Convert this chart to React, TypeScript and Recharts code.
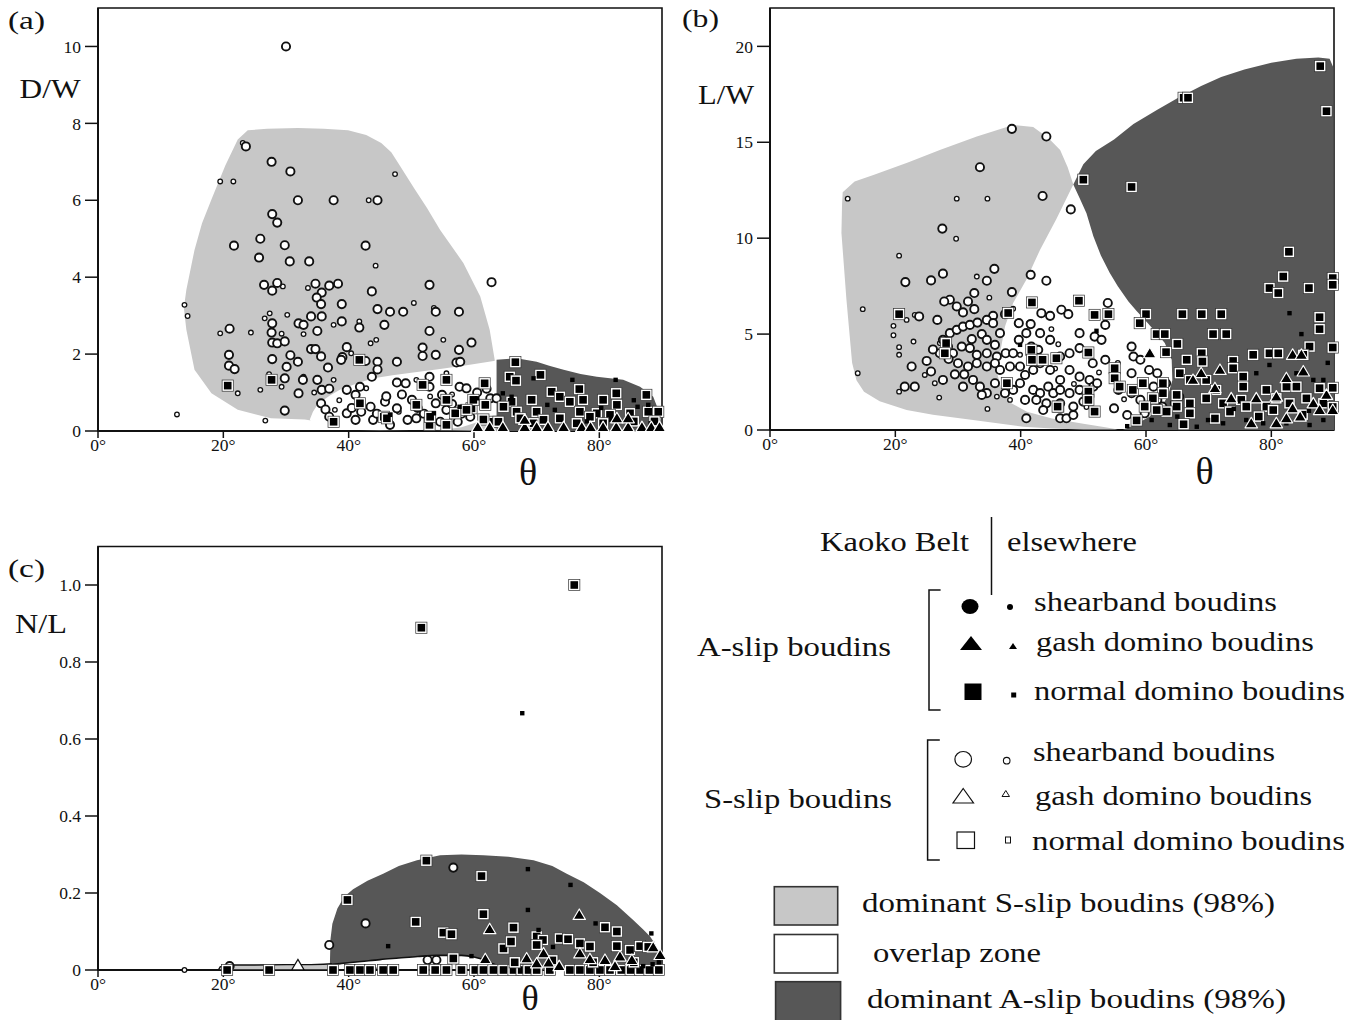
import React from 'react';
import { ScatterChart, Scatter, XAxis, YAxis, ReferenceArea } from 'recharts';

type P = [number, number];
const FONT = '"Liberation Serif", "Times New Roman", Times, serif';
const LIGHT = '#c7c7c7';
const DARK = '#575757';
const INK = '#111';

// ---------- tick labels ----------
const xTicks = [0, 20, 40, 60, 80];
const aYTicks = [0, 2, 4, 6, 8, 10];
const bYTicks = [0, 5, 10, 15, 20];
const cYTicks = [0, 0.2, 0.4, 0.6, 0.8, 1.0];

// ---------- panel (a) D/W vs theta ----------
const aShearKaoko: P[] = [[30,10],[23.6,7.4],[27.7,7.0],[30.7,6.75],[31.9,6.0],[37.6,6.0],[44.6,6.0],[27.8,5.64],[28.6,5.42],[21.7,4.82],[25.9,5.0],[29.8,4.83],[42.7,4.82],[25.7,4.51],[30.6,4.41],[33.7,4.41],[26.5,3.8],[27.8,3.65],[28.6,3.85],[34.7,3.83],[35.7,3.6],[36.9,3.78],[38.3,3.83],[34.9,3.47],[35.6,3.3],[43.7,3.63],[52.9,3.8],[62.8,3.87],[38.9,3.3],[44.6,3.17],[46.6,3.1],[48.7,3.1],[53.9,3.1],[57.6,3.1],[52.9,2.6],[59.6,2.3],[27.8,2.8],[21.0,2.66],[32.0,2.8],[32.8,2.76],[34.0,2.98],[35.7,2.98],[38.9,2.85],[35.0,2.6],[41.7,2.69],[45.7,2.76],[27.7,2.56],[27.8,2.3],[28.6,2.28],[29.8,2.33],[34.0,2.13],[34.7,2.13],[35.6,1.94],[39.7,2.18],[39.0,1.92],[38.8,1.85],[30.7,1.97],[27.8,1.87],[31.9,1.8],[20.9,1.98],[20.9,1.7],[21.8,1.61],[30.1,1.67],[29.8,1.37],[32.7,1.33],[36.7,1.65],[42.7,1.82],[43.7,1.41],[44.6,1.8],[44.6,1.6],[47.7,1.8],[51.8,2.17],[51.8,1.95],[53.9,1.98],[57.6,2.11],[57.2,1.78],[57.8,1.8],[32.0,0.98],[35.0,1.33],[35.7,1.07],[36.9,1.1],[35.6,0.72],[29.8,0.53],[36.3,0.56],[39.7,1.07],[41.1,0.94],[41.8,1.15],[43.5,0.63],[43.9,0.29],[39.7,0.46],[41.1,0.29],[45.8,0.76],[47.7,0.59],[47.7,1.26],[49.1,1.24],[50.1,0.81],[50.8,0.33],[52.9,1.41],[52.9,1.15],[53.9,0.72],[54.9,0.94],[55.6,0.55],[57.7,1.15],[58.8,1.11],[59.8,0.72],[59.4,0.37],[62.6,0.85],[63.6,0.85],[61.7,0.68],[49.4,0.29],[54.6,0.24],[57.4,0.24],[46.6,0.16],[36.9,0.37],[40.5,0.6],[42,0.5],[44.5,0.45],[46,0.9],[48.5,0.95],[51,0.6],[52,0.45],[56.5,0.7],[58,0.45],[60.5,1.0],[62,1.1]];
const aShearElse: P[] = [[19.5,6.49],[21.6,6.49],[23.1,7.49],[47.4,6.68],[43.2,6.0],[44.3,4.3],[13.8,3.28],[14.3,2.99],[19.5,2.54],[24.4,2.56],[26.6,2.93],[27.4,3.06],[29.5,3.76],[30.2,3.02],[29.3,2.53],[32.8,2.52],[33.5,3.72],[37.6,2.76],[41.7,2.85],[44.4,2.37],[50.4,3.33],[53.6,3.2],[55.1,2.37],[20.7,2.0],[25.9,1.07],[22.3,0.98],[27.3,1.48],[26.7,0.27],[12.6,0.43],[29.3,1.15],[32.8,1.41],[37.6,1.33],[40.4,2.02],[43.5,2.28],[37.8,0.55],[42.8,1.11],[50.8,1.33],[55.6,1.5],[34.5,1.0],[38.5,0.8],[45.5,0.3],[48,0.5],[53,0.9],[56.5,0.95]];
const aNormalKaoko: P[] = [[20.7,1.18],[27.7,1.33],[41.7,1.85],[37.6,0.24],[55.6,1.33],[61.7,1.24],[51.8,1.2],[45.6,0.37],[52.9,0.16],[59.6,0.59],[66.6,1.79],[65.7,1.41],[66.7,1.31],[70.6,1.46],[76.8,1.09],[82.7,0.98],[87.5,0.94],[69.2,0.81],[72.4,1.02],[73.7,0.89],[77.4,0.81],[80.6,0.81],[66.0,0.76],[75.3,0.76],[82.8,0.68],[66.8,0.5],[70.0,0.5],[73.7,0.33],[76.9,0.5],[79.6,0.46],[81.7,0.42],[84.9,0.46],[87.8,0.5],[89.4,0.5],[64.7,0.63],[63.1,0.24],[61.8,0.68],[59.9,0.81],[58.8,0.55],[71.1,0.29],[80.6,0.2],[55.6,0.81],[53.0,0.37],[50.8,0.68],[46.1,0.33],[41.8,0.72],[67.4,0.33],[69.5,0.2],[76.4,0.2],[85.5,0.25],[88.8,0.25],[61.5,0.3],[57,0.46],[55.6,0.16],[63.9,0.24],[78.5,0.37]];
const aNormalElse: P[] = [[69.5,1.37],[75.7,1.33],[82.6,1.33],[85.5,0.8],[64.6,0.98],[71.7,0.68],[80.3,0.6],[86.1,0.63],[46.6,0.42],[53.6,0.46],[60.5,0.85],[57.7,0.63],[72.9,0.55],[81.9,0.29],[88.2,0.2],[66,0.89],[74.3,0.16],[64.7,0.11],[87.8,0.68],[78,0.25],[68,0.1]];
const aGashKaoko: P[] = [[60.6,0.1],[62.5,0.1],[64.6,0.1],[68.1,0.1],[70,0.1],[71.8,0.1],[74.3,0.1],[77.2,0.1],[78.6,0.1],[80.6,0.1],[82.7,0.1],[84.6,0.1],[86.8,0.1],[88.3,0.1],[89.6,0.1],[68.1,0.29],[82.8,0.33],[84.6,0.33]];

const aRegionLight: P[] = [[23.9,7.82],[27,7.86],[31.9,7.88],[36,7.86],[39.9,7.82],[42.8,7.7],[45.2,7.49],[46.8,7.25],[47.9,6.97],[50.5,6.3],[52.5,5.8],[54.6,5.23],[58.3,4.37],[61.0,3.5],[62.5,2.63],[63.3,1.85],[63.6,0],[50,0.03],[40,0.12],[33,0.3],[27.6,0.33],[22.3,0.55],[18.1,0.98],[15.4,1.59],[14.1,2.63],[13.7,3.2],[14.1,3.67],[15.4,4.71],[16.6,5.4],[18.1,6.02],[20.3,6.9],[22.3,7.58]];
const aRegionOverlap: P[] = [[33.8,0.3],[34.3,0.5],[35.1,0.7],[37.0,0.92],[38.6,1.07],[41.5,1.25],[44,1.37],[47,1.45],[50.3,1.52],[54,1.6],[58.3,1.7],[63.4,1.83],[63.6,0.4],[62,0.32],[60,0.2],[58,0.1],[55,0.03],[45,0.02],[38,0.03],[34.5,0.1]];
const aRegionDark: P[] = [[63.6,1.85],[66.8,1.89],[70.0,1.8],[72,1.7],[74.3,1.59],[77,1.48],[79.6,1.41],[83.8,1.33],[86.5,1.15],[88.6,0.89],[89.4,0.55],[89.8,0.2],[90,0],[63.6,0]];

// ---------- panel (b) L/W vs theta ----------
const bShearKaoko: P[] = [[38.6,15.7],[44.1,15.3],[33.5,13.7],[43.5,12.2],[48.0,11.5],[27.5,10.5],[21.6,7.71],[25.7,7.8],[27.6,8.15],[35.8,8.4],[34.6,7.78],[38.6,7.19],[41.6,8.09],[44.1,7.78],[26.7,5.74],[23.8,5.92],[21.5,2.26],[22.6,3.31],[25.7,3.05],[27.6,2.61],[32.6,7.14],[31.6,6.7],[32.6,6.3],[28.7,6.79],[29.8,6.44],[27.8,6.7],[30.8,6.13],[35.6,5.95],[37.5,6.04],[39.7,5.57],[41.6,5.52],[43.3,6.09],[44.7,5.95],[46.5,6.27],[47.6,6.04],[43.1,5.05],[44.7,4.7],[27.6,4.7],[28.7,5.05],[29.8,5.22],[30.8,5.39],[31.9,5.48],[33.1,5.6],[34.6,5.74],[33.8,5.0],[35.6,5.57],[36.7,5.05],[35.9,4.44],[34.6,4.7],[32.2,4.74],[30.6,4.35],[28.4,4.35],[27.1,4.0],[29.2,4.0],[31.9,4.27],[33.0,3.92],[34.6,4.0],[36.2,3.83],[37.6,4.0],[38.8,4.0],[39.7,4.7],[40.9,5.05],[41.7,4.35],[42.8,4.18],[46.3,3.83],[47.8,4.0],[49.4,4.27],[30.0,3.48],[31.6,3.31],[33.0,3.48],[34.6,3.31],[35.9,3.48],[36.7,3.13],[38.3,3.31],[39.9,3.31],[40.7,2.87],[42.0,3.13],[43.1,3.48],[44.7,3.13],[46.3,2.61],[47.8,3.13],[49.4,2.78],[51.0,2.61],[51.6,2.26],[30.8,2.26],[32.4,2.61],[33.5,2.26],[34.6,1.92],[35.9,2.44],[37.5,1.92],[38.8,2.09],[39.9,2.44],[42.0,2.09],[43.1,1.92],[44.4,2.26],[45.2,1.92],[46.3,2.09],[47.8,1.92],[49.4,2.09],[50.5,1.92],[33.8,1.83],[40.7,1.57],[42.5,1.57],[44.1,1.39],[46.3,1.39],[48.4,1.22],[50.0,1.48],[40.9,0.61],[43.6,1.04],[46.3,0.61],[47.3,0.61],[48.4,0.78],[49.4,5.05],[51.8,4.87],[52.9,4.7],[53.9,6.62],[53.5,5.48],[51.5,3.48],[53.5,3.66],[57.7,4.35],[58.0,3.83],[59.1,3.66],[57.7,2.96],[60.5,3.13],[61.8,2.96],[54.9,2.78],[55.6,2.09],[57.7,1.92],[59.1,1.57],[61.8,1.57],[61.2,2.26],[63.2,2.44],[54.9,1.13],[57.0,0.78],[59.8,0.87],[62.6,1.22],[64.6,1.39],[65.3,1.74],[52.2,2.44],[23.1,2.26],[25,3.6],[26,4.2],[28.5,3.7],[29.5,2.9],[31,2.9]];
const bShearElse: P[] = [[12.4,12.06],[29.8,12.06],[34.7,12.06],[29.7,9.97],[20.6,9.09],[14.8,6.3],[14.0,2.96],[20.6,2.0],[27.0,1.69],[34.7,1.1],[19.7,5.43],[19.7,4.94],[20.6,4.32],[20.6,3.92],[22.9,4.61],[24.7,2.87],[26.3,2.44],[23.1,6.0],[21.8,5.74],[38.8,6.32],[39.9,3.92],[41.3,5.57],[46.0,4.47],[44.9,5.26],[36.2,1.74],[38.3,1.57],[27.1,4.53],[35,6.9],[33,8],[45.5,3.2],[48.5,2.4],[52.5,3.0],[50.5,1.2],[55.5,3.5],[56.5,1.6]];
const bNormalKaoko: P[] = [[50.0,13.05],[20.6,6.04],[41.8,6.65],[49.3,6.74],[51.8,6.0],[28.1,4.53],[41.7,4.18],[45.7,3.74],[50.8,4.04],[37.8,2.44],[50.8,2.0],[50.8,1.57],[46.0,1.22],[51.8,0.96],[87.8,18.97],[66.0,17.32],[66.7,17.32],[88.8,16.62],[57.7,12.67],[82.8,9.29],[81.9,8.0],[79.7,7.4],[81.1,7.14],[86.0,7.4],[89.8,7.92],[89.8,7.57],[60.0,6.04],[65.8,6.04],[68.9,6.04],[72.0,6.04],[70.7,5.0],[72.8,5.0],[87.7,5.88],[87.7,5.26],[54.0,6.04],[59.0,5.57],[61.7,5.0],[63.0,5.0],[65.0,4.49],[63.2,4.06],[66.5,3.66],[68.9,4.0],[69.0,3.57],[73.9,3.6],[73.9,3.22],[77.1,3.92],[79.7,4.0],[81.1,4.0],[86.1,4.35],[85.1,3.92],[65.4,2.96],[67.0,2.61],[69.6,2.61],[71.2,2.09],[75.5,2.78],[75.5,2.26],[79.2,2.09],[82.4,2.26],[84.0,2.26],[87.7,2.18],[62.7,2.44],[62.7,1.92],[64.9,1.83],[64.9,1.22],[63.3,0.96],[67.0,1.39],[67.0,0.87],[69.6,1.65],[72.3,1.39],[75.2,1.57],[76.0,1.22],[79.2,1.22],[80.8,1.65],[82.9,1.39],[85.6,1.65],[88.3,1.39],[80.3,1.04],[73.4,0.96],[55.0,3.22],[55.0,2.7],[55.8,2.26],[57.9,2.09],[59.5,2.44],[61.1,1.65],[59.8,1.22],[61.7,1.04],[41.8,3.66],[43.5,3.66],[45.9,1.22],[27.9,4.0],[38,6.1],[89.8,4.3],[89.8,2.2],[89.8,1.2],[58.5,0.5],[66,0.3],[85,0.8],[78,0.7],[71,0.6]];
const bNormalElse: P[] = [[82.9,6.09],[84.8,5.0],[79.7,3.39],[60.9,0.52],[63.8,0.26],[68.1,0.17],[69.9,0.52],[72.3,0.35],[76.0,0.52],[78.7,0.35],[82.4,0.35],[86.1,0.26],[88.3,0.52],[86.7,2.61],[88.3,2.61],[84.0,2.96],[77.6,2.96],[39.9,4.44],[43.3,3.74],[52.1,5.17],[86,1.0],[74,1.1],[65,0.7],[57,0.2],[89,3.5]];
const bGashKaoko: P[] = [[60.6,4.0],[68.8,2.96],[71.8,3.13],[67.5,2.61],[71.0,2.18],[73.6,1.65],[77.6,1.65],[80.8,1.74],[83.4,3.92],[84.8,3.92],[85.1,3.05],[82.4,2.7],[83.4,1.13],[84.6,0.7],[76.8,0.35],[80.8,0.35],[82.4,0.61],[86.7,1.39],[87.7,1.04],[88.8,1.83],[89.8,1.04]];

const bRegionLight: P[] = [[11.6,12.4],[13.5,12.95],[16.5,13.3],[22,13.95],[27.1,14.6],[33,15.3],[38.8,15.9],[42.0,15.8],[44.5,15.2],[46.3,14.6],[47.5,13.7],[48.4,12.8],[45.7,11.0],[43.1,9.4],[40.9,7.83],[38.8,6.62],[37.5,5.39],[36.7,4.0],[36.3,2.9],[37.0,2.0],[38.5,1.4],[41,0.95],[45,0.6],[50,0.33],[53.5,0.14],[55.5,0.02],[50,0.02],[45,0.08],[40.4,0.17],[32.4,0.52],[26,0.8],[21.8,1.04],[17.5,1.5],[15,2.0],[13.8,2.6],[13.1,3.5],[12.2,6.79],[11.4,10.27],[11.5,11.8]];
const bRegionDark: P[] = [[48.4,12.8],[50,13.85],[52,14.55],[54.9,15.14],[58,15.95],[61.8,16.7],[65,17.3],[68.8,17.93],[72,18.4],[75.7,18.8],[80,19.15],[84,19.35],[87.5,19.42],[89.3,19.35],[89.9,18.9],[90,0],[56.3,0],[58.4,0.3],[60.6,0.7],[62.5,1.2],[63.5,1.8],[64.2,2.6],[64.1,3.66],[63.0,4.53],[61.7,5.05],[60.3,5.57],[58.5,6.2],[57.2,6.7],[55.5,7.5],[54.2,8.2],[52.8,9.1],[51.6,10.1],[50.5,11.3],[49.4,12.1]];

// ---------- panel (c) N/L vs theta ----------
const cNormalKaoko: P[] = [[51.6,0.889],[76.0,1.0],[52.4,0.284],[61.2,0.244],[39.8,0.182],[50.7,0.125],[55.1,0.097],[56.4,0.093],[61.5,0.145],[66.3,0.11],[64.7,0.056],[65.9,0.074],[70.0,0.087],[71.0,0.078],[70.0,0.065],[73.7,0.082],[75.0,0.08],[76.9,0.069],[78.5,0.061],[80.9,0.111],[82.8,0.1],[82.8,0.062],[84.9,0.052],[86.5,0.062],[87.8,0.06],[56.7,0.03],[20.6,0],[27.3,0],[37.5,0],[40.2,0],[41.8,0],[43.4,0],[45.5,0],[47.1,0],[51.9,0],[53.8,0],[55.6,0],[58.0,0],[60.2,0],[61.5,0],[63.1,0],[64.7,0],[66.3,0],[67.6,0],[68.7,0],[70.0,0],[72.1,0],[75.3,0],[76.9,0],[78.5,0],[80.1,0],[81.7,0],[83.5,0],[85,0],[86.5,0],[88,0],[89.5,0],[72.5,0.025],[79,0.02],[85.5,0.02],[66.5,0.02]];
const cNormalElse: P[] = [[67.7,0.667],[68.6,0.262],[75.4,0.221],[68.6,0.156],[46.3,0.062],[79.4,0.121],[88.3,0.095],[70.3,0.104],[59.6,0.036],[72.6,0.06],[87,0.01],[88.5,0.015],[89.5,0.02]];
const cShearKaoko: P[] = [[56.7,0.266],[42.7,0.121],[36.9,0.065],[52.6,0.026],[54.0,0.026],[21.0,0.01]];
const cShearElse: P[] = [[13.8,0],[54,0.012],[44,0.003]];
const cGashKaoko: P[] = [[62.5,0.106],[76.8,0.143],[61.8,0.028],[68.4,0.03],[71.1,0.043],[70.0,0.017],[71.9,0.019],[73.6,0.01],[76.9,0.043],[80.9,0.026],[83.3,0.035],[85.2,0.026],[88.6,0.059],[89.7,0.039],[82.5,0.01],[78.5,0.028]];
const cGashSlip: P[] = [[31.9,0.012]];

const cRegionDark: P[] = [[37,0.012],[37.1,0.08],[37.4,0.12],[38.2,0.16],[39.3,0.19],[40.7,0.21],[43,0.232],[45.5,0.25],[48,0.27],[50.9,0.285],[54.6,0.298],[58,0.3],[61.5,0.298],[65.5,0.294],[69.5,0.285],[72.5,0.27],[74.8,0.25],[77.5,0.228],[80.1,0.2],[82.8,0.168],[85.4,0.13],[87,0.105],[88.1,0.087],[89.0,0.065],[89.5,0.04],[90,0],[64.5,0],[64.5,0.006],[63,0.016],[61.5,0.027],[60,0.034],[58,0.038],[54,0.038],[51,0.035],[48,0.031],[45,0.027],[42,0.022],[39.5,0.017]];
const cRegionLens: P[] = [[19.2,0.0],[19.5,0.008],[20.5,0.013],[25,0.013],[30,0.014],[34,0.014],[36,0.015],[37.2,0.016],[37.4,0.0]];
const cOverlapEdge: P[] = [[37,0.014],[39.5,0.018],[42,0.022],[45,0.027],[48,0.031],[51,0.035],[54,0.038],[58,0.038],[60,0.034],[61.5,0.027],[63,0.016],[64.5,0.006],[64.6,0]];

const pts = (a: P[]) => a.map(([x, y]) => ({ x, y }));

// ---------- marker shapes ----------
const noShape = () => <g />;
const circleL = (p: any) => <circle cx={p.cx} cy={p.cy} r={4.1} fill="#fff" stroke={INK} strokeWidth={1.9} />;
const circleS = (p: any) => <circle cx={p.cx} cy={p.cy} r={2.3} fill="#fff" stroke={INK} strokeWidth={1.3} />;
const boxSquare = (p: any) => (
  <g>
    <rect x={p.cx - 5.6} y={p.cy - 5.6} width={11.2} height={11.2} fill="#fff" stroke="#333" strokeWidth={0.7} />
    <rect x={p.cx - 3.8} y={p.cy - 3.8} width={7.6} height={7.6} fill="#000" />
  </g>
);
const smallSquare = (p: any) => <rect x={p.cx - 2.2} y={p.cy - 2.2} width={4.4} height={4.4} fill="#000" />;
const triFilled = (p: any) => (
  <path d={`M${p.cx} ${p.cy - 6}L${p.cx + 6.2} ${p.cy + 4.5}L${p.cx - 6.2} ${p.cy + 4.5}Z`} fill="#000" stroke="#fff" strokeWidth={1.2} strokeLinejoin="round" />
);
const triOpen = (p: any) => (
  <path d={`M${p.cx} ${p.cy - 6}L${p.cx + 6.2} ${p.cy + 4.5}L${p.cx - 6.2} ${p.cy + 4.5}Z`} fill="#fff" stroke={INK} strokeWidth={1.2} />
);

const tickStyle = { fill: INK, fontSize: 17.5, fontFamily: FONT };

function region(data: P[], fill: string, key: string, stroke = 'none', sw = 0) {
  return (
    <Scatter key={key} data={pts(data)} shape={noShape} line={{ fill, stroke, strokeWidth: sw }} lineType="joint" lineJointType="linearClosed" isAnimationActive={false} legendType="none" />
  );
}
function series(data: P[], shape: any, key: string) {
  return <Scatter key={key} data={pts(data)} shape={shape} isAnimationActive={false} legendType="none" />;
}

function axes(yDomain: [number, number], yTicks: number[], yFmt?: (v: number) => string) {
  return [
    <XAxis key="x" type="number" dataKey="x" domain={[0, 90]} ticks={xTicks} interval={0} tickFormatter={(v: number) => `${v}°`} height={1} tickSize={7} tickMargin={1} tick={tickStyle} axisLine={{ stroke: INK, strokeWidth: 2 }} tickLine={{ stroke: INK, strokeWidth: 1.5 }} />,
    <YAxis key="y" type="number" dataKey="y" domain={yDomain} ticks={yTicks} interval={0} tickFormatter={yFmt} width={1} tickSize={13} tickMargin={4} tick={tickStyle} axisLine={{ stroke: INK, strokeWidth: 2 }} tickLine={{ stroke: INK, strokeWidth: 1.5 }} />,
    <ReferenceArea key="box" x1={0} x2={90} y1={yDomain[0]} y2={yDomain[1]} fill="none" fillOpacity={0} stroke={INK} strokeWidth={1.6} />,
  ];
}

function PanelA() {
  return (
    <div style={{ position: 'absolute', left: 0, top: 0 }}>
      <ScatterChart width={680} height={480} margin={{ top: 8, right: 18, bottom: 48, left: 97 }}>
        {region(aRegionLight, LIGHT, 'r1')}
        {region(aRegionOverlap, '#fff', 'r2')}
        {region(aRegionDark, DARK, 'r3')}
        {axes([0, 11], aYTicks)}
        {series(aShearElse, circleS, 's1')}
        {series(aShearKaoko, circleL, 's2')}
        {series(aNormalKaoko, boxSquare, 's3')}
        {series(aNormalElse, smallSquare, 's4')}
        {series(aGashKaoko, triFilled, 's5')}
      </ScatterChart>
    </div>
  );
}

function PanelB() {
  return (
    <div style={{ position: 'absolute', left: 680, top: 0 }}>
      <ScatterChart width={681} height={480} margin={{ top: 8, right: 27, bottom: 49, left: 89 }}>
        {region(bRegionLight, LIGHT, 'r1')}
        {region(bRegionDark, DARK, 'r2')}
        {axes([0, 22], bYTicks)}
        {series(bShearElse, circleS, 's1')}
        {series(bShearKaoko, circleL, 's2')}
        {series(bNormalKaoko, boxSquare, 's3')}
        {series(bNormalElse, smallSquare, 's4')}
        {series(bGashKaoko, triFilled, 's5')}
      </ScatterChart>
    </div>
  );
}

function PanelC() {
  return (
    <div style={{ position: 'absolute', left: 0, top: 540 }}>
      <ScatterChart width={680} height={480} margin={{ top: 6.5, right: 18, bottom: 49, left: 97 }}>
        {region(cRegionDark, DARK, 'r1')}
        {region(cRegionLens, LIGHT, 'r2', INK, 1.4)}
        <Scatter key="edge" data={pts(cOverlapEdge)} shape={noShape} line={{ fill: 'none', stroke: INK, strokeWidth: 1.6 }} lineType="joint" lineJointType="monotoneX" isAnimationActive={false} legendType="none" />
        {axes([0, 1.1], cYTicks, (v: number) => (v === 0 ? '0' : v.toFixed(1)))}
        {series(cShearElse, circleS, 's1')}
        {series(cShearKaoko, circleL, 's2')}
        {series(cNormalKaoko, boxSquare, 's3')}
        {series(cNormalElse, smallSquare, 's4')}
        {series(cGashKaoko, triFilled, 's5')}
        {series(cGashSlip, triOpen, 's6')}
      </ScatterChart>
    </div>
  );
}

function T({ x, y, s, w, children, anchor }: any) {
  return (
    <text x={x} y={y} fontSize={s} fontFamily={FONT} fill={INK} textAnchor={anchor || 'start'} textLength={w} lengthAdjust={w ? 'spacingAndGlyphs' : undefined}>
      {children}
    </text>
  );
}

function Overlay() {
  return (
    <svg width={1361} height={1020} style={{ position: 'absolute', left: 0, top: 0, pointerEvents: 'none' }}>
      <T x={8} y={29} s={25} w={37}>(a)</T>
      <T x={682} y={27} s={25} w={37}>(b)</T>
      <T x={8} y={577} s={25} w={37}>(c)</T>
      <T x={19.5} y={98} s={28} w={61}>D/W</T>
      <T x={698} y={104} s={28} w={56}>L/W</T>
      <T x={15} y={633} s={27} w={52}>N/L</T>
      <T x={528} y={485} s={38} anchor="middle">θ</T>
      <T x={1204.5} y={484} s={38} anchor="middle">θ</T>
      <T x={530} y={1010} s={36} anchor="middle">θ</T>

      <T x={820} y={551} s={28} w={149}>Kaoko Belt</T>
      <line x1={991.5} y1={517} x2={991.5} y2={595} stroke={INK} strokeWidth={1.5} />
      <T x={1007} y={551} s={28} w={130}>elsewhere</T>

      <T x={697} y={656} s={28} w={194}>A-slip boudins</T>
      <path d="M940.6 590 H929 V710 H940.6" fill="none" stroke={INK} strokeWidth={1.5} />
      <ellipse cx={970} cy={606.5} rx={8.5} ry={7.5} fill="#000" />
      <circle cx={1010} cy={607} r={3} fill="#000" />
      <T x={1034} y={611} s={27} w={243}>shearband boudins</T>
      <path d="M971 636 L982 650 L960 650 Z" fill="#000" />
      <path d="M1013 643 L1017 649 L1009 649 Z" fill="#000" />
      <T x={1036} y={651} s={27} w={278}>gash domino boudins</T>
      <rect x={964.5} y={683.5} width={17} height={16.5} fill="#000" />
      <rect x={1011.2} y={692.5} width={5} height={5} fill="#000" />
      <T x={1034} y={700} s={27} w={311}>normal domino boudins</T>

      <T x={704} y={808} s={28} w={188}>S-slip boudins</T>
      <path d="M939.8 740 H927.6 V860 H939.8" fill="none" stroke={INK} strokeWidth={1.5} />
      <ellipse cx={963.2} cy={759.3} rx={8.3} ry={7.8} fill="#fff" stroke={INK} strokeWidth={1.2} />
      <circle cx={1006.7} cy={760.7} r={3.3} fill="#fff" stroke={INK} strokeWidth={1.1} />
      <T x={1033} y={761} s={27} w={242}>shearband boudins</T>
      <path d="M963.2 788.5 L973.5 803 L953 803 Z" fill="#fff" stroke={INK} strokeWidth={1.2} />
      <path d="M1005.8 790.5 L1009.5 796.5 L1002 796.5 Z" fill="#fff" stroke={INK} strokeWidth={1} />
      <T x={1035} y={805} s={27} w={277}>gash domino boudins</T>
      <rect x={957} y={832} width={17.5} height={16.5} fill="#fff" stroke={INK} strokeWidth={1.2} />
      <rect x={1005.5} y={837} width={5} height={6} fill="#fff" stroke={INK} strokeWidth={1} />
      <T x={1032} y={850} s={27} w={313}>normal domino boudins</T>

      <rect x={774.3} y={886.7} width={63.4} height={38.3} fill={LIGHT} stroke="#333" strokeWidth={1.6} />
      <T x={862} y={912} s={27} w={413}>dominant S-slip boudins (98%)</T>
      <rect x={774.3} y={934.5} width={63.4} height={38.5} fill="#fff" stroke="#333" strokeWidth={1.6} />
      <T x={873} y={962} s={27} w={168}>overlap zone</T>
      <rect x={775.6} y={981.7} width={65} height={40} fill={DARK} stroke="#333" strokeWidth={1.6} />
      <T x={867} y={1008} s={27} w={419}>dominant A-slip boudins (98%)</T>
    </svg>
  );
}

export default function App() {
  return (
    <div style={{ position: 'absolute', left: 0, top: 0, width: 1361, height: 1020, background: '#fff', fontFamily: FONT, overflow: 'hidden' }}>
      <PanelA />
      <PanelB />
      <PanelC />
      <Overlay />
    </div>
  );
}
